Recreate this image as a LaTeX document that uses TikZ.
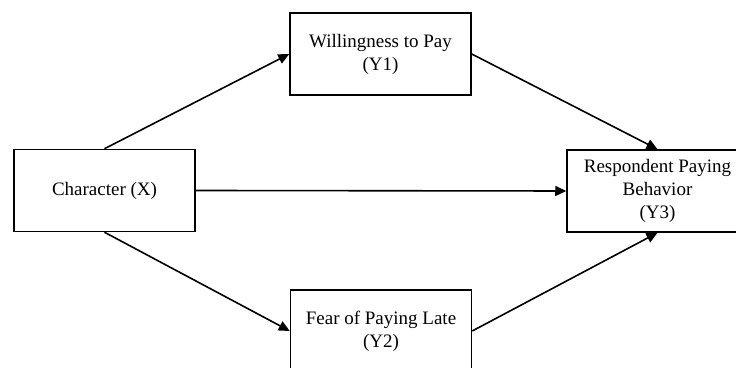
\documentclass[tikz,border=0pt]{standalone}
\usepackage{fontspec}
\setmainfont{Liberation Serif}
\usetikzlibrary{arrows.meta}

\begin{document}
\begin{tikzpicture}[
  x=0.5pt, y=-0.5pt,
  box/.style={draw, line width=0.75pt, minimum width=90.5pt, minimum height=41pt, align=center, font=\fontsize{9.5}{11.5}\selectfont, inner sep=2pt},
  arr/.style={-{Triangle[length=5.5pt, width=5pt]}, line width=0.8pt}
]
  \useasboundingbox (0,0) rectangle (736,368);
  \clip (0,0) rectangle (736,368);

  \node[box] (char) at (104.5,190.5) {Character (X)};
  \node[box] (wtp) at (380.5,54) {Willingness to Pay\\(Y1)};
  \node[box] (fear) at (381,331) {Fear of Paying Late\\(Y2)};
  \node[box] (resp) at (657.5,191) {Respondent Paying\\Behavior\\(Y3)};

  \draw[arr] (char.north) -- (wtp.west);
  \draw[arr] (char.south) -- (fear.west);
  \draw[arr] (char.east) -- (resp.west);
  \draw[arr] (wtp.east) -- (resp.north);
  \draw[arr] (fear.east) -- (resp.south);
\end{tikzpicture}
\end{document}
